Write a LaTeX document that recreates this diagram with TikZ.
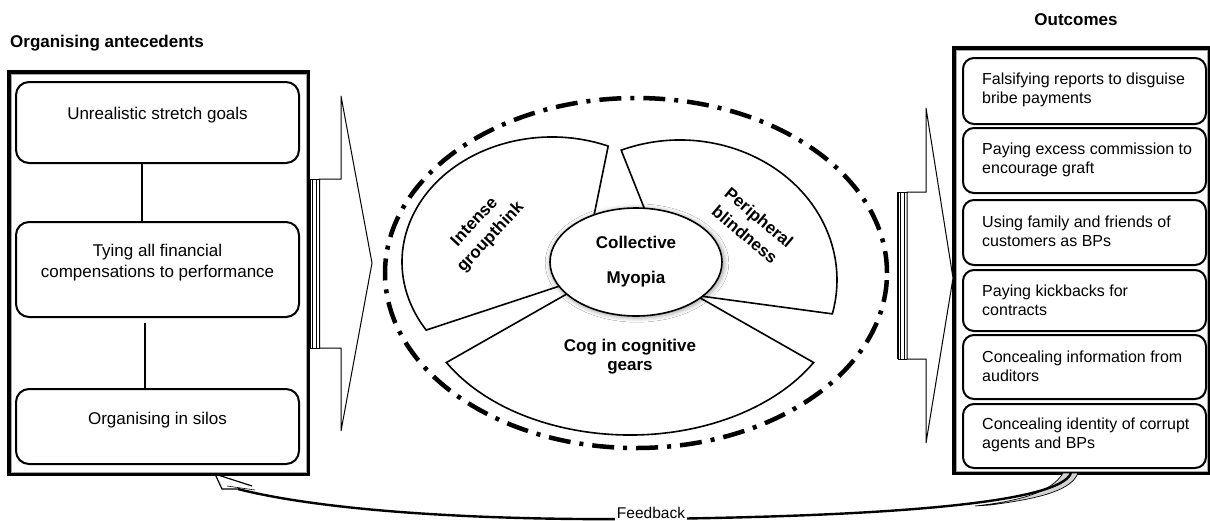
\documentclass[tikz,border=0pt]{standalone}
\usepackage{fontspec}
\setmainfont{Liberation Sans}
\usetikzlibrary{shapes.geometric,shadows.blur}
\begin{document}
\begin{tikzpicture}[x=1pt,y=-1pt,
  lbox/.style={draw, line width=2pt, rounded corners=13pt, minimum width=283},
  rbox/.style={draw, line width=2pt, rounded corners=11pt, minimum width=243},
  frame/.style={draw, line width=3.2pt},
  ltxt/.style={font=\fontsize{17}{21}\selectfont, align=center, inner sep=0pt},
  rtxt/.style={font=\fontsize{16}{19}\selectfont, align=left, anchor=west, inner sep=0pt},
  ttl/.style={font=\bfseries\fontsize{17}{20}\selectfont, inner sep=0pt},
  sect/.style={draw, line width=1.6pt, fill=white, line join=miter},
  stxt/.style={font=\bfseries\fontsize{17}{22}\selectfont, align=center, inner sep=0pt},
  ddash/.style={line width=4.5pt, dash pattern=on 22pt off 9pt on 4pt off 9pt},
  barrow/.style={draw, line width=1pt, fill=white, line join=miter},
  stripe/.style={line width=1.3pt}
]
\useasboundingbox (0,0) rectangle (1210,520);

% titles
\node[ttl] (tl) at (107,43) {Organising antecedents};
\node[ttl] (tr) at (1076,20) {Outcomes};

% left frame and boxes
\node[frame, minimum width=299, minimum height=402] (outL) at (158.5,273) {};
\draw[gray!70, line width=0.5pt] ([shift={(3.5,3.5)}]outL.north west) rectangle ([shift={(-3.5,-3.5)}]outL.south east);
\node[lbox, minimum height=81] (b1) at (157.5,122.5) {};
\node[lbox, minimum height=95] (b2) at (157.5,269.5) {};
\node[lbox, minimum height=75] (b3) at (157.5,426.5) {};
\node[ltxt] (t1) at (157.5,115) {Unrealistic stretch goals};
\node[ltxt] (t2) at (157.5,262.5) {Tying all financial\\compensations to performance};
\node[ltxt] (t3) at (157.5,420) {Organising in silos};
\draw[line width=2pt] ([xshift=-15.5pt]b1.south) -- ([xshift=-15.5pt]b2.north);
\draw[line width=2pt] ([xshift=-12.5pt,yshift=-5pt]b2.south) -- ([xshift=-12.5pt]b3.north);

% right frame and boxes
\node[frame, minimum width=255, minimum height=425] (outR) at (1081.5,260.5) {};
\draw[gray!70, line width=0.5pt] ([shift={(3.5,3.5)}]outR.north west) rectangle ([shift={(-3.5,-3.5)}]outR.south east);
\node[rbox, minimum height=66] (r1) at (1084.5,91) {};
\node[rbox, minimum height=65] (r2) at (1084.5,160.5) {};
\node[rbox, minimum height=65] (r3) at (1084.5,232.5) {};
\node[rbox, minimum height=61] (r4) at (1084.5,300.5) {};
\node[rbox, minimum height=64] (r5) at (1084.5,367) {};
\node[rbox, minimum height=64] (r6) at (1084.5,436) {};
\node[rtxt] (s1) at (982,89.5) {Falsifying reports to disguise\\bribe payments};
\node[rtxt] (s2) at (982,159.5) {Paying excess commission to\\encourage graft};
\node[rtxt] (s3) at (982,231.5) {Using family and friends of\\customers as BPs};
\node[rtxt] (s4) at (982,300.5) {Paying kickbacks for\\contracts};
\node[rtxt] (s5) at (982,366.5) {Concealing information from\\auditors};
\node[rtxt] (s6) at (982,434.5) {Concealing identity of corrupt\\agents and BPs};

% left striped block arrow
\draw[barrow] (319.5,179) -- (341,179) -- (341,96) -- (372,263) -- (341,431) -- (341,348) -- (319.5,348) -- cycle;
\draw[stripe] (310,179) -- (310,348);
\draw[stripe] (312.8,179) -- (312.8,348);
\draw[stripe] (316.5,179) -- (316.5,348);
\draw[line width=1pt] (310,179) -- (319.5,179) (310,348) -- (319.5,348);

% right striped block arrow
\draw[barrow] (907,192) -- (926,192) -- (926,108) -- (953,278) -- (926,443) -- (926,359) -- (907,359) -- cycle;
\draw[stripe] (898,192) -- (898,359);
\draw[stripe] (900.8,192) -- (900.8,359);
\draw[stripe] (904.3,192) -- (904.3,359);
\draw[line width=1pt] (897.5,192) -- (907,192) (897.5,359) -- (907,359);

% dash-dot ellipse
\draw[ddash] (636,273) ellipse[x radius=251pt, y radius=175pt];

% sectors
\draw[sect] (581,279) -- ([shift={(68:150pt and 125pt)}]552,262) arc[start angle=68, end angle=213, x radius=150pt, y radius=125pt] -- cycle;
\draw[sect] (678,293) -- ([shift={(112:157pt and 140pt)}]680,280) arc[start angle=112, end angle=-14, x radius=157pt, y radius=140pt] -- cycle;
\draw[sect] (630,258) -- ([shift={(210:212pt and 145pt)}]630,290) arc[start angle=210, end angle=330, x radius=212pt, y radius=145pt] -- cycle;

\node[stxt, rotate=47] (g1) at (483,230) {Intense\\groupthink};
\node[stxt, rotate=-40] (g2) at (752,226) {Peripheral\\blindness};
\node[stxt, font=\bfseries\fontsize{17}{19}\selectfont] (g3) at (630,357) {Cog in cognitive\\gears};

% central ellipse
\node[ellipse, draw, line width=1.6pt, fill=white, minimum width=172, minimum height=108,
      blur shadow={shadow xshift=1pt, shadow yshift=-1pt, shadow scale=1.02, shadow blur radius=4pt, shadow opacity=35},
      align=center, font=\bfseries\fontsize{17}{35}\selectfont] (cm) at (636,262) {Collective\\Myopia};

% feedback curved arrow
\coordinate (fbstart) at (1071,473);
\coordinate (fbtip) at (215,474);
\filldraw[fill=gray!35, line width=0.7pt] (1063,473) .. controls (1052,492) and (1020,501) .. (975,506)
   -- (990,505) .. controls (1045,498) and (1072,489) .. (1078,473) -- cycle;
\draw[line width=2.4pt] (fbstart) .. controls (1060,502) and (900,516) .. (651,519)
   .. controls (430,521) and (300,505) .. (238,489);
\draw[line width=1.2pt, line join=miter] (238,489) -- (222,489) -- (fbtip) -- (252,486);
\draw[line width=0.6pt] (227,486) -- (255,490);
\node[fill=white, inner sep=2pt, font=\fontsize{15.5}{18}\selectfont] (fb) at (651,513) {Feedback};
\end{tikzpicture}
\end{document}
